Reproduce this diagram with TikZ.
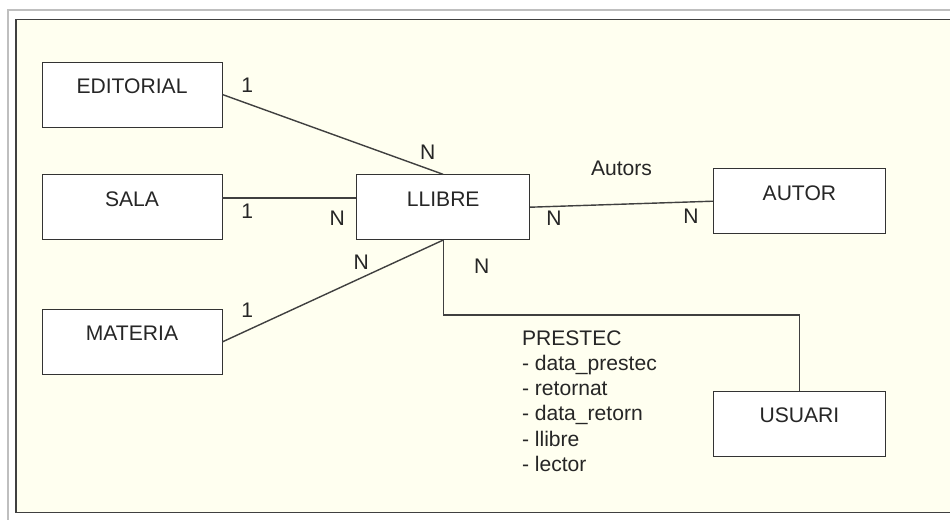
\documentclass[tikz,border=0pt]{standalone}
\usepackage{fontspec}
\setmainfont{Liberation Sans}
\usepackage{xcolor}
\usepackage{tikz}
\usetikzlibrary{positioning,calc}
\definecolor{crema}{RGB}{255,255,240}

\begin{document}
\begin{tikzpicture}[
  entitat/.style={rectangle, draw=black!80, fill=white, minimum width=3.6cm, minimum height=1.3cm, inner sep=0pt, text height=0.63cm, text depth=0.67cm, text=black!85, font=\fontsize{12}{14}\selectfont},
  card/.style={inner sep=0pt, text=black!85, font=\fontsize{12}{14.35}\selectfont},
  linia/.style={draw=black!75, thick}
]
  \useasboundingbox (0,0) rectangle (19,-10.4);
  \draw[black!25, line width=1.2pt, fill=white] (0.16,-0.2) rectangle (19.4,-10.6);
  \draw[black!75, line width=1pt, fill=crema] (0.32,-0.39) rectangle (19.4,-10.25);

  \node[entitat] (EDITORIAL) at (2.64,-1.89) {EDITORIAL};
  \node[entitat, below=0.94cm of EDITORIAL] (SALA) {SALA};
  \node[entitat, below=1.38cm of SALA] (MATERIA) {MATERIA};
  \node[entitat, minimum width=3.46cm, right=2.68cm of SALA] (LLIBRE) {LLIBRE};
  \node[entitat, minimum width=3.44cm, right=3.66cm of LLIBRE, yshift=0.12cm] (AUTOR) {AUTOR};
  \node[entitat, minimum width=3.44cm, below=3.14cm of AUTOR] (USUARI) {USUARI};

  \draw[linia] (EDITORIAL.east) -- (LLIBRE.north);
  \draw[linia] ([yshift=0.18cm]SALA.east) -- ([yshift=0.18cm]LLIBRE.west);
  \draw[linia] (MATERIA.east) -- (LLIBRE.south);
  \draw[linia] (LLIBRE.east) -- (AUTOR.west);
  \draw[linia] (LLIBRE.south) -- ++(0,-1.5) -| (USUARI.north);

  % cardinalitats
  \node[card] (edit1) at ([xshift=0.5cm, yshift=0.19cm]EDITORIAL.east) {1};
  \node[card] (editN) at ([xshift=-0.31cm, yshift=0.44cm]LLIBRE.north) {N};
  \node[card] (sala1) at ([xshift=0.5cm, yshift=-0.08cm]SALA.east) {1};
  \node[card] (salaN) at ([xshift=-0.38cm, yshift=-0.22cm]LLIBRE.west) {N};
  \node[card] (mat1) at ([xshift=0.5cm, yshift=0.64cm]MATERIA.east) {1};
  \node[card] (matN) at ([xshift=-1.64cm, yshift=-0.45cm]LLIBRE.south) {N};
  \node[card] (autN1) at ([xshift=0.48cm, yshift=-0.22cm]LLIBRE.east) {N};
  \node[card] (autN2) at ([xshift=-0.44cm, yshift=-0.30cm]AUTOR.west) {N};
  \node[card] (Autors) at ([yshift=0.72cm]$(LLIBRE.east)!0.5!(AUTOR.west)$) {Autors};
  \node[card] (presN) at ([xshift=0.77cm, yshift=-0.52cm]LLIBRE.south) {N};
  \node[card, anchor=north west, align=left] (PRESTEC) at ([xshift=1.57cm, yshift=-1.8cm]LLIBRE.south)
    {PRESTEC\\- data\_prestec\\- retornat\\- data\_retorn\\- llibre\\- lector};
\end{tikzpicture}
\end{document}
